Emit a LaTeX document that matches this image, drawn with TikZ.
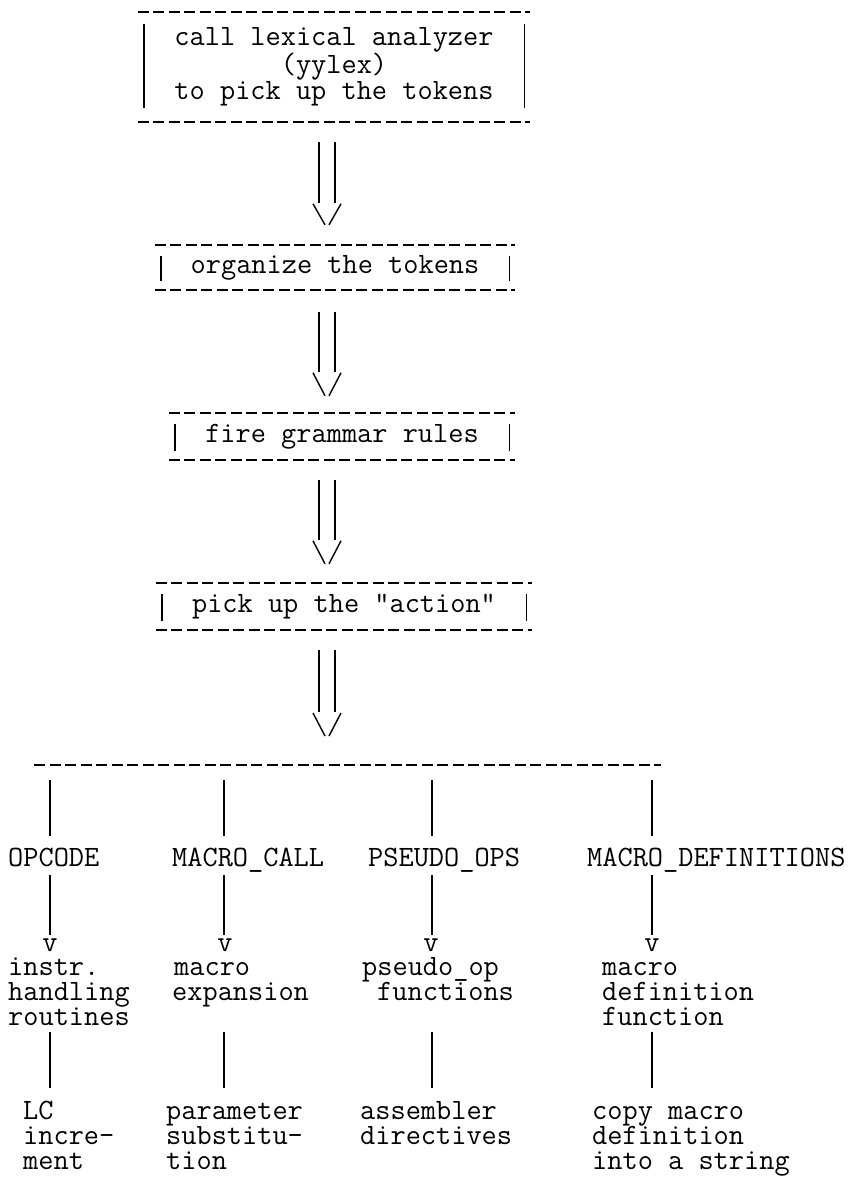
\documentclass[tikz,border=0pt]{standalone}
\usepackage{fontspec}
\newcommand\pairarrow[6]{%
  % double shaft from #1 towards #2 on the axis (ax), then an open chevron
  \draw[bar] ([xshift=-8pt,yshift=#3]#1.south -| ax) -- ([xshift=-8pt,yshift=#4]#2.north -| ax);
  \draw[bar] ([xshift=8pt,yshift=#3]#1.south -| ax) -- ([xshift=8pt,yshift=#4]#2.north -| ax);
  \draw[bar] ([xshift=-14pt,yshift=#5]#2.north -| ax) -- ([xshift=-2pt,yshift=#6]#2.north -| ax);
  \draw[bar] ([xshift=14pt,yshift=#5]#2.north -| ax) -- ([xshift=2pt,yshift=#6]#2.north -| ax);
}
\newcommand\stagerules[1]{%
  \draw[rule] ([xshift=-6pt]#1.north west) -- ([xshift=6pt]#1.north east);
  \draw[rule] ([xshift=-6pt]#1.south west) -- ([xshift=6pt]#1.south east);
}
\begin{document}
\begin{tikzpicture}[x=1pt,y=-1pt,
  ttf/.style={font=\fontsize{29.5}{26}\selectfont\ttfamily},
  tt/.style={ttf, inner sep=0pt, anchor=base west},
  ttc/.style={ttf, inner sep=0pt, anchor=base},
  stage/.style={ttf, inner sep=0pt, align=center},
  rule/.style={line width=1.5pt, dash pattern=on 11pt off 4.5pt},
  bar/.style={line width=1.4pt},
]
\useasboundingbox (0,0) rectangle (854,1186);

% ---- processing stages ----
\node[stage, minimum width=380pt, minimum height=110pt] (b1) at (334,67)
  {call lexical analyzer\\(yylex)\\to pick up the tokens};
\node[stage, minimum width=348pt, minimum height=45pt] (b2) at (335,267.5) {organize the tokens};
\node[stage, minimum width=334pt, minimum height=47pt] (b3) at (342,436.5) {fire grammar rules};
\node[stage, minimum width=364pt, minimum height=47pt] (b4) at (344,606.5) {pick up the "action"};

\stagerules{b1}\stagerules{b2}\stagerules{b3}\stagerules{b4}
\draw[bar] ([yshift=-12pt]b1.north west) -- ([yshift=14pt]b1.south west);
\draw[bar] ([yshift=-12pt]b1.north east) -- ([yshift=14pt]b1.south east);
\foreach \b in {b2,b3,b4}{
  \draw[bar] ([yshift=-11pt]\b.north west) -- ([yshift=9pt]\b.south west);
  \draw[bar] ([yshift=-11pt]\b.north east) -- ([yshift=9pt]\b.south east);
}

% ---- split into the four kinds of statement ----
\coordinate (ax) at (327,0);
\coordinate (hub) at (327,765);
\coordinate (sl) at (34,765);
\coordinate (sr) at (661,765);
\draw[rule] (sl) -- (sr);

\pairarrow{b1}{b2}{-20pt}{42pt}{41pt}{20pt}
\pairarrow{b2}{b3}{-22pt}{41pt}{40pt}{17pt}
\pairarrow{b3}{b4}{-20pt}{43pt}{42pt}{19pt}
\pairarrow{b4}{hub}{-20pt}{53pt}{52pt}{29pt}

\coordinate (cA) at (50,0);
\coordinate (cB) at (224,0);
\coordinate (cC) at (432,0);
\coordinate (cD) at (652,0);

% column labels
\node[tt] (lA) at (8,866) {OPCODE};
\node[tt] (lB) at (172,866) {MACRO\_CALL};
\node[tt] (lC) at (368,866) {PSEUDO\_OPS};
\node[tt] (lD) at (587,866) {MACRO\_DEFINITIONS};

% arrow heads
\node[ttc] (vA) at (50,951) {v};
\node[ttc] (vB) at (225,951) {v};
\node[ttc] (vC) at (431,951) {v};
\node[ttc] (vD) at (652,951) {v};

% handlers
\node[tt] (hA1) at (8,975) {instr.};
\node[tt] (hA2) at (8,1000) {handling};
\node[tt] (hA3) at (8,1025) {routines};
\node[tt] (hB1) at (174,975) {macro};
\node[tt] (hB2) at (172,1000) {expansion};
\node[tt] (hC1) at (362,975) {pseudo\_op};
\node[tt] (hC2) at (377,1000) {functions};
\node[tt] (hD1) at (602,975) {macro};
\node[tt] (hD2) at (602,1000) {definition};
\node[tt] (hD3) at (602,1025) {function};

% results
\node[tt] (rA1) at (23,1119) {LC};
\node[tt] (rA2) at (23,1144) {incre-};
\node[tt] (rA3) at (23,1169) {ment};
\node[tt] (rB1) at (166,1119) {parameter};
\node[tt] (rB2) at (166,1144) {substitu-};
\node[tt] (rB3) at (166,1169) {tion};
\node[tt] (rC1) at (360,1119) {assembler};
\node[tt] (rC2) at (360,1144) {directives};
\node[tt] (rD1) at (592,1119) {copy macro};
\node[tt] (rD2) at (592,1144) {definition};
\node[tt] (rD3) at (592,1169) {into a string};

% hub line down to the labels
\draw[bar] ([yshift=-15pt]sl -| cA) -- ([yshift=30pt]lA.base -| cA);
\draw[bar] ([yshift=-15pt]sl -| cB) -- ([yshift=30pt]lB.base -| cB);
\draw[bar] ([yshift=-15pt]sl -| cC) -- ([yshift=30pt]lC.base -| cC);
\draw[bar] ([yshift=-15pt]sl -| cD) -- ([yshift=30pt]lD.base -| cD);

% labels down to the arrow heads
\draw[bar] ([yshift=-9pt]lA.base -| cA) -- ([yshift=16pt]vA.base -| cA);
\draw[bar] ([yshift=-9pt]lB.base -| cB) -- ([yshift=16pt]vB.base -| cB);
\draw[bar] ([yshift=-9pt]lC.base -| cC) -- ([yshift=16pt]vC.base -| cC);
\draw[bar] ([yshift=-9pt]lD.base -| cD) -- ([yshift=16pt]vD.base -| cD);

% handlers down to results
\draw[bar] ([yshift=-7pt]hA3.base -| cA) -- ([yshift=31pt]rA1.base -| cA);
\draw[bar] ([yshift=-32pt]hB2.base -| cB) -- ([yshift=31pt]rB1.base -| cB);
\draw[bar] ([yshift=-32pt]hC2.base -| cC) -- ([yshift=31pt]rC1.base -| cC);
\draw[bar] ([yshift=-7pt]hD3.base -| cD) -- ([yshift=31pt]rD1.base -| cD);
\end{tikzpicture}
\end{document}
